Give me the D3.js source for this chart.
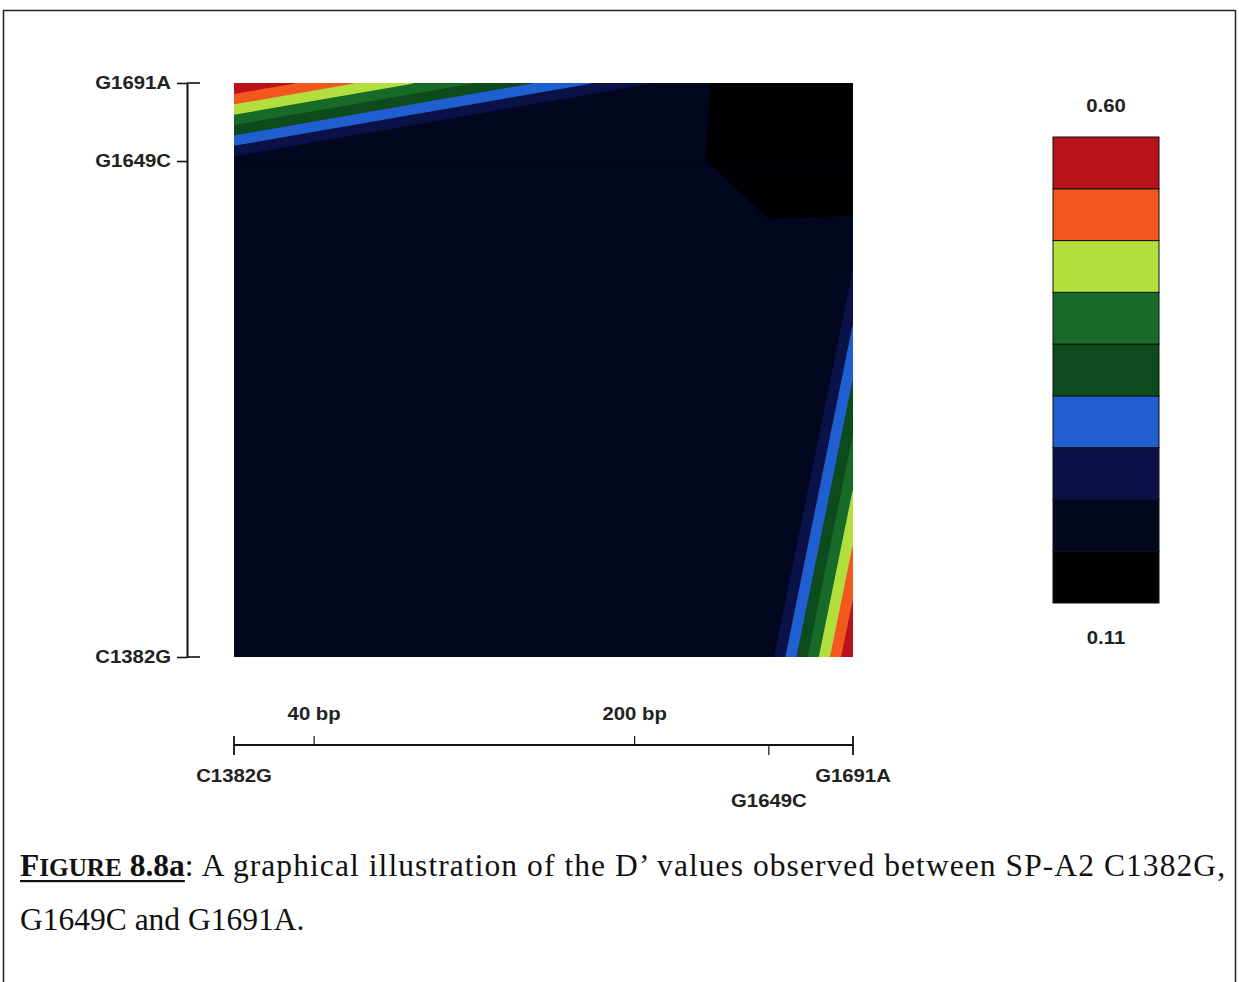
<!DOCTYPE html>
<html>
<head>
<meta charset="utf-8">
<script src="https://cdn.jsdelivr.net/npm/d3@7"></script>
<style>
  body { margin: 0; background: #ffffff; }
  svg { display: block; }
</style>
</head>
<body>
<svg id="fig" width="1239" height="982"></svg>
<script>
// ---- data -------------------------------------------------------------
const snpNames = ["C1382G", "G1649C", "G1691A"];
const snpPositions = [1382, 1649, 1691];
// D' grid: one array per SNP on the x axis, values listed along the y axis
const dPrimeC1382G = [0.19, 0.19, 0.60];
const dPrimeG1649C = [0.19, 0.161, 0.11];
const dPrimeG1691A = [0.60, 0.11, 0.11];
// fill colours, lowest band first
const bandColors = ["#010104", "#03061f", "#0a1248", "#1f5fcf", "#0d4a1c",
                    "#176a27", "#b2df3e", "#f2581e", "#b8131b"];
const legendLabels = ["0.60", "0.11"];
const scaleMarksBp = [40, 200];
const captionLabel = ["F", "IGURE", " 8.8a"];
const captionLine1 = ": A graphical illustration of the D\u2019 values observed between SP-A2 C1382G,";
const captionLine2 = "G1649C and G1691A.";

// ---- setup ------------------------------------------------------------
const svg = d3.select("#fig");
const zGrid = [dPrimeC1382G, dPrimeG1649C, dPrimeG1691A];
const [zMin, zMax] = d3.extent(zGrid.flat());
const nBands = bandColors.length;
const levels = d3.range(nBands + 1).map(i => zMin + (zMax - zMin) * i / nBands);

const x = d3.scaleLinear().domain(d3.extent(snpPositions)).range([234, 853]);
const y = d3.scaleLinear().domain(d3.extent(snpPositions)).range([657, 83]);

const SANS = "'Liberation Sans', Arial, sans-serif";
const SERIF = "'Liberation Serif', 'Times New Roman', serif";
const SX = 1.13; // horizontal stretch of the chart lettering

// page frame
svg.append("rect")
  .attr("x", 3.5).attr("y", 10.5).attr("width", 1232).attr("height", 1000)
  .attr("fill", "none").attr("stroke", "#222").attr("stroke-width", 1.5);

// ---- filled contour ----------------------------------------------------
// For one grid cell, walk its four edges and keep the stretches where the
// linearly interpolated value lies in [lo, hi]; the kept end points form
// the polygon of that band inside the cell.
function bandPolygon(cx, cy, cz, lo, hi) {
  const pts = [];
  for (let k = 0; k < 4; k++) {
    const a = k, b = (k + 1) % 4;
    const az = cz[a], bz = cz[b];
    let t0, t1;
    if (az === bz) {
      if (az >= lo && az <= hi) { t0 = 0; t1 = 1; } else continue;
    } else {
      const ta = (lo - az) / (bz - az), tb = (hi - az) / (bz - az);
      t0 = Math.max(0, Math.min(ta, tb));
      t1 = Math.min(1, Math.max(ta, tb));
      if (t0 > t1) continue;
    }
    for (const t of (t0 === t1 ? [t0] : [t0, t1])) {
      const p = [cx[a] + t * (cx[b] - cx[a]), cy[a] + t * (cy[b] - cy[a])];
      const last = pts[pts.length - 1];
      if (!last || Math.abs(last[0] - p[0]) > 1e-9 || Math.abs(last[1] - p[1]) > 1e-9) pts.push(p);
    }
  }
  if (pts.length > 1) {
    const f = pts[0], l = pts[pts.length - 1];
    if (Math.abs(f[0] - l[0]) < 1e-9 && Math.abs(f[1] - l[1]) < 1e-9) pts.pop();
  }
  return pts.length >= 3 ? pts : null;
}

const polys = [];
for (let i = 0; i < snpPositions.length - 1; i++) {
  for (let j = 0; j < snpPositions.length - 1; j++) {
    const x0 = snpPositions[i], x1 = snpPositions[i + 1];
    const y0 = snpPositions[j], y1 = snpPositions[j + 1];
    const cx = [x0, x1, x1, x0];
    const cy = [y0, y0, y1, y1];
    const cz = [zGrid[i][j], zGrid[i + 1][j], zGrid[i + 1][j + 1], zGrid[i][j + 1]];
    for (let b = 0; b < nBands; b++) {
      const poly = bandPolygon(cx, cy, cz, levels[b], levels[b + 1]);
      if (poly) polys.push({ band: b, pts: poly });
    }
  }
}

svg.append("clipPath").attr("id", "plotClip")
  .append("rect")
  .attr("x", x.range()[0]).attr("y", y.range()[1])
  .attr("width", x.range()[1] - x.range()[0])
  .attr("height", y.range()[0] - y.range()[1]);

const line = d3.line().x(d => x(d[0])).y(d => y(d[1]));
svg.append("g").attr("clip-path", "url(#plotClip)")
  .selectAll("path").data(polys).join("path")
  .attr("d", d => line(d.pts) + "Z")
  .attr("fill", d => bandColors[d.band])
  .attr("stroke", d => bandColors[d.band])
  .attr("stroke-width", 1.3)
  .attr("stroke-linejoin", "round");

// ---- left axis ---------------------------------------------------------
const axisX = 187;
const leftAxis = d3.axisLeft(y)
  .tickValues(snpPositions)
  .tickFormat((d, i) => snpNames[i])
  .tickSize(10).tickSizeOuter(0).tickPadding(6);
const gl = svg.append("g").attr("transform", `translate(${axisX},0)`).call(leftAxis);
gl.select(".domain").attr("stroke", "#111").attr("stroke-width", 2);
gl.selectAll(".tick line").attr("stroke", "#111").attr("stroke-width", 1.6);
gl.selectAll(".tick text")
  .attr("x", null)
  .attr("transform", `translate(-16,0) scale(${SX},1)`)
  .attr("font-family", SANS).attr("font-size", 18).attr("font-weight", "bold")
  .attr("fill", "#222");
// end caps reach across the axis
gl.selectAll(".cap").data(d3.extent(snpPositions)).join("line")
  .attr("x1", 0).attr("x2", 13)
  .attr("y1", d => y(d)).attr("y2", d => y(d))
  .attr("stroke", "#111").attr("stroke-width", 1.6);

// ---- physical scale bar -----------------------------------------------
const barY = 745;
const start = snpPositions[0];
const bar = svg.append("g");
bar.append("line")
  .attr("x1", x(start)).attr("x2", x(snpPositions[snpPositions.length - 1]))
  .attr("y1", barY).attr("y2", barY)
  .attr("stroke", "#111").attr("stroke-width", 2);
// end ticks
bar.selectAll(".endTick").data(d3.extent(snpPositions)).join("line")
  .attr("x1", d => x(d)).attr("x2", d => x(d))
  .attr("y1", barY - 9).attr("y2", barY + 10)
  .attr("stroke", "#111").attr("stroke-width", 1.8);
// bp marks above
bar.selectAll(".bpTick").data(scaleMarksBp).join("line")
  .attr("x1", d => x(start + d)).attr("x2", d => x(start + d))
  .attr("y1", barY - 9).attr("y2", barY)
  .attr("stroke", "#111").attr("stroke-width", 1.2);
bar.selectAll(".bpLabel").data(scaleMarksBp).join("text")
  .attr("transform", d => `translate(${x(start + d)},${720}) scale(${SX},1)`)
  .attr("text-anchor", "middle")
  .attr("font-family", SANS).attr("font-size", 18).attr("font-weight", "bold").attr("fill", "#222")
  .text(d => `${d} bp`);
// inner SNP marks below
const inner = snpPositions.slice(1, -1);
bar.selectAll(".snpTick").data(inner).join("line")
  .attr("x1", d => x(d)).attr("x2", d => x(d))
  .attr("y1", barY).attr("y2", barY + 10)
  .attr("stroke", "#111").attr("stroke-width", 1.2);
bar.selectAll(".snpLabel").data(snpPositions).join("text")
  .attr("transform", (d, i) => {
    const inside = i > 0 && i < snpPositions.length - 1;
    return `translate(${x(d)},${inside ? 807 : 782}) scale(${SX},1)`;
  })
  .attr("text-anchor", "middle")
  .attr("font-family", SANS).attr("font-size", 18).attr("font-weight", "bold").attr("fill", "#222")
  .text((d, i) => snpNames[i]);

// ---- colour key --------------------------------------------------------
const yKey = d3.scaleLinear().domain([zMin, zMax]).range([603, 137]);
const keyX = 1053, keyW = 106;
svg.append("g").selectAll("rect").data(d3.range(nBands)).join("rect")
  .attr("x", keyX).attr("width", keyW)
  .attr("y", b => yKey(levels[b + 1]))
  .attr("height", b => yKey(levels[b]) - yKey(levels[b + 1]))
  .attr("fill", b => bandColors[b])
  .attr("stroke", "#111").attr("stroke-width", 1);
svg.append("g").selectAll("text").data(legendLabels).join("text")
  .attr("transform", (d, i) => `translate(${keyX + keyW / 2},${i === 0 ? yKey(zMax) - 25 : yKey(zMin) + 41}) scale(${SX},1)`)
  .attr("text-anchor", "middle")
  .attr("font-family", SANS).attr("font-size", 18).attr("font-weight", "bold").attr("fill", "#222")
  .text(d => d);

// ---- caption -----------------------------------------------------------
const capFont = 31.5;
const cap = svg.append("g").attr("font-family", SERIF).attr("fill", "#111");
const lbl = cap.append("text").attr("x", 20).attr("y", 876)
  .attr("font-size", capFont).attr("font-weight", "bold");
lbl.append("tspan").text(captionLabel[0]);
lbl.append("tspan").attr("font-size", capFont * 0.8).text(captionLabel[1]);
lbl.append("tspan").text(captionLabel[2]);
const lblW = lbl.node().getComputedTextLength();
cap.append("rect").attr("x", 20).attr("y", 880).attr("width", lblW).attr("height", 2.2).attr("fill", "#111");
cap.append("text").attr("x", 20 + lblW).attr("y", 876)
  .attr("font-size", capFont)
  .attr("textLength", 1225 - (20 + lblW)).attr("lengthAdjust", "spacing")
  .text(captionLine1);
cap.append("text").attr("x", 20).attr("y", 930)
  .attr("font-size", capFont)
  .text(captionLine2);
</script>
</body>
</html>
